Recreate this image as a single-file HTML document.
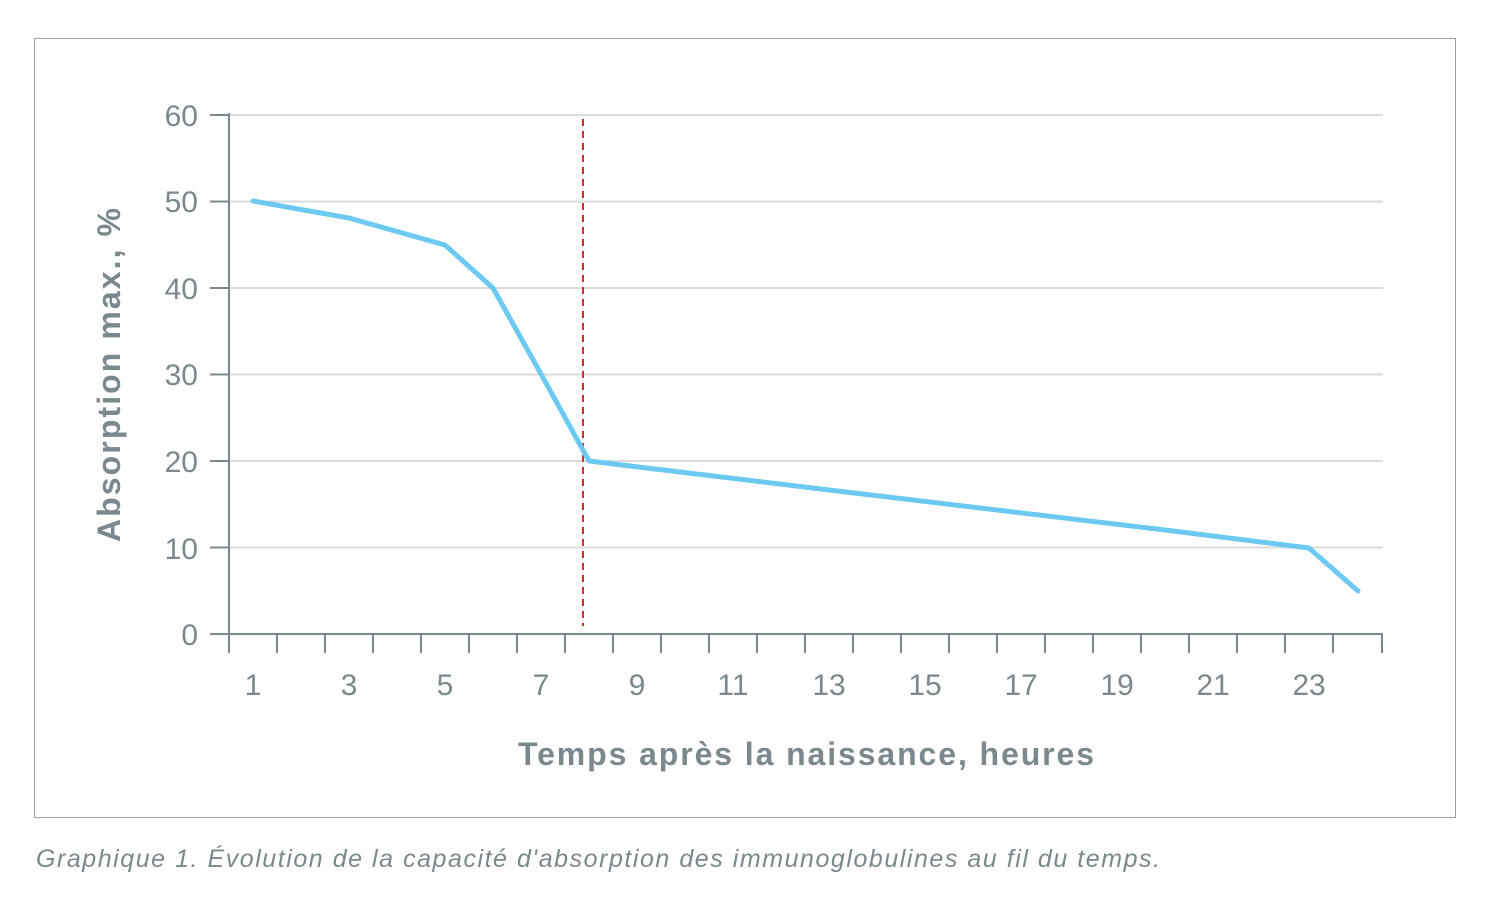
<!DOCTYPE html>
<html><head><meta charset="utf-8"><style>body{margin:0;background:#fff}svg{display:block}</style></head>
<body>
<svg width="1495" height="905" xmlns="http://www.w3.org/2000/svg" font-family="Liberation Sans, sans-serif">
<rect x="34.5" y="38.5" width="1421" height="779" fill="none" stroke="#9aa4a8" stroke-width="1"/>
<g stroke="#d9dcdd" stroke-width="2">
<line x1="229" x2="1383" y1="115" y2="115"/><line x1="229" x2="1383" y1="201.5" y2="201.5"/>
<line x1="229" x2="1383" y1="288" y2="288"/><line x1="229" x2="1383" y1="374.5" y2="374.5"/>
<line x1="229" x2="1383" y1="461" y2="461"/><line x1="229" x2="1383" y1="547.5" y2="547.5"/>
</g>
<g stroke="#7b888d" stroke-width="2">
<line x1="229" x2="229" y1="113" y2="653"/><line x1="210" x2="1383" y1="634" y2="634"/>
<line x1="210" x2="229" y1="115" y2="115"/><line x1="210" x2="229" y1="201.5" y2="201.5"/>
<line x1="210" x2="229" y1="288" y2="288"/><line x1="210" x2="229" y1="374.5" y2="374.5"/>
<line x1="210" x2="229" y1="461" y2="461"/><line x1="210" x2="229" y1="547.5" y2="547.5"/>
<path d="M277 634v19M325 634v19M373 634v19M421 634v19M469 634v19M517 634v19M565 634v19M613 634v19M661 634v19M709 634v19M757 634v19M805 634v19M853 634v19M901 634v19M949 634v19M997 634v19M1045 634v19M1093 634v19M1141 634v19M1189 634v19M1237 634v19M1285 634v19M1333 634v19M1382 634v19"/>
</g>
<g fill="#7b888d" font-size="30" text-anchor="end">
<text x="198" y="126">60</text><text x="198" y="212">50</text><text x="198" y="299">40</text>
<text x="198" y="385">30</text><text x="198" y="472">20</text><text x="198" y="559">10</text><text x="198" y="645">0</text>
</g>
<g fill="#7b888d" font-size="30" text-anchor="middle">
<text x="253" y="695">1</text><text x="349" y="695">3</text><text x="445" y="695">5</text><text x="541" y="695">7</text>
<text x="637" y="695">9</text><text x="733" y="695">11</text><text x="829" y="695">13</text><text x="925" y="695">15</text>
<text x="1021" y="695">17</text><text x="1117" y="695">19</text><text x="1213" y="695">21</text><text x="1309" y="695">23</text>
</g>
<text x="806" y="765" fill="#7b888d" font-size="32" font-weight="bold" text-anchor="middle" textLength="576">Temps après la naissance, heures</text>
<text transform="translate(120 375) rotate(-90)" fill="#7b888d" font-size="32" font-weight="bold" text-anchor="middle" textLength="334">Absorption max., %</text>
<line x1="583" x2="583" y1="119" y2="626" stroke="#e02a2a" stroke-width="2" stroke-dasharray="7,5"/>
<polyline fill="none" stroke="#6ccaf2" stroke-width="5" stroke-linejoin="round" stroke-linecap="round"
points="253,201 349,218 445,245 493,288 541,374 589,461 829,490 1165,530 1309,548 1358,591"/>
<text x="36" y="867" fill="#7b888d" font-size="25" font-style="italic" textLength="1124">Graphique 1. Évolution de la capacité d'absorption des immunoglobulines au fil du temps.</text>
</svg>
</body></html>
